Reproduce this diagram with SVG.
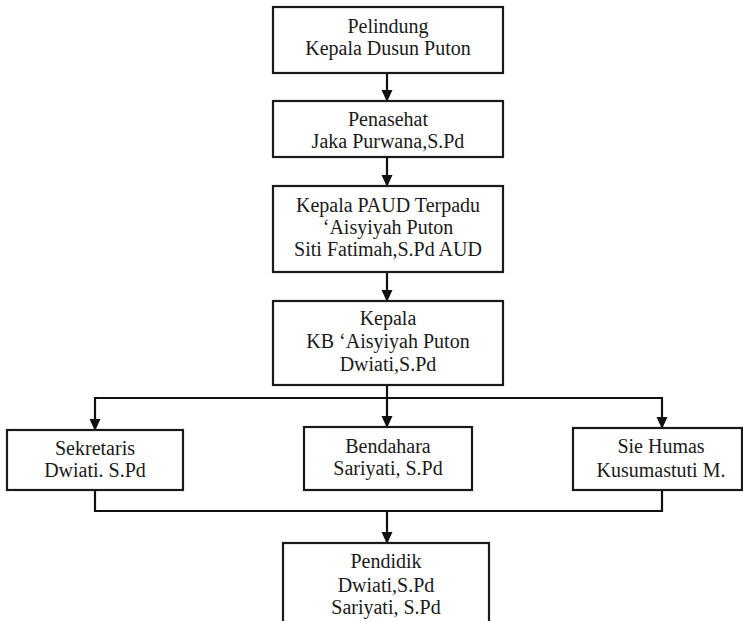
<svg xmlns="http://www.w3.org/2000/svg" width="743" height="621" viewBox="0 0 743 621">
<defs>
<marker id="ah" markerWidth="12" markerHeight="12" refX="11" refY="6" orient="auto" markerUnits="userSpaceOnUse">
<path d="M0,0.5 L12,6 L0,11.5 Z" fill="#111"/>
</marker>
<style>
.box{fill:#fff;stroke:#1a1a1a;stroke-width:2.2}
.t{font-family:"Liberation Serif","Times New Roman",serif;font-size:20px;fill:#1a1a1a;text-anchor:middle}
.c{fill:none;stroke:#111;stroke-width:2.2}
</style>
</defs>
<rect width="743" height="621" fill="#fff"/>
<g id="connectors">
<line class="c" x1="387" y1="73" x2="387" y2="101" marker-end="url(#ah)"/>
<line class="c" x1="387" y1="157" x2="387" y2="186" marker-end="url(#ah)"/>
<line class="c" x1="387" y1="272" x2="387" y2="301" marker-end="url(#ah)"/>
<line class="c" x1="387" y1="385" x2="387" y2="427" marker-end="url(#ah)"/>
<line class="c" x1="95" y1="398" x2="662" y2="398"/>
<line class="c" x1="95" y1="397" x2="95" y2="430" marker-end="url(#ah)"/>
<line class="c" x1="662" y1="397" x2="662" y2="428" marker-end="url(#ah)"/>
<polyline class="c" points="95,490 95,511 662,511 662,490"/>
<line class="c" x1="387" y1="511" x2="387" y2="543" marker-end="url(#ah)"/>
</g>
<g id="pelindung">
<rect class="box" x="273" y="7" width="230" height="66"/>
<text class="t" x="388" y="33">Pelindung</text>
<text class="t" x="388" y="55">Kepala Dusun Puton</text>
</g>
<g id="penasehat">
<rect class="box" x="273" y="101" width="230" height="56"/>
<text class="t" x="388" y="126">Penasehat</text>
<text class="t" x="388" y="148">Jaka Purwana,S.Pd</text>
</g>
<g id="kepala-paud">
<rect class="box" x="273" y="186" width="230" height="86"/>
<text class="t" x="388" y="212">Kepala PAUD Terpadu</text>
<text class="t" x="388" y="234">‘Aisyiyah Puton</text>
<text class="t" x="388" y="256">Siti Fatimah,S.Pd AUD</text>
</g>
<g id="kepala-kb">
<rect class="box" x="273" y="301" width="230" height="84"/>
<text class="t" x="388" y="325">Kepala</text>
<text class="t" x="388" y="348">KB ‘Aisyiyah Puton</text>
<text class="t" x="388" y="371">Dwiati,S.Pd</text>
</g>
<g id="sekretaris">
<rect class="box" x="7" y="430" width="176" height="60"/>
<text class="t" x="95" y="455">Sekretaris</text>
<text class="t" x="95" y="477">Dwiati. S.Pd</text>
</g>
<g id="bendahara">
<rect class="box" x="304" y="427" width="168" height="63"/>
<text class="t" x="388" y="453">Bendahara</text>
<text class="t" x="388" y="475">Sariyati, S.Pd</text>
</g>
<g id="sie-humas">
<rect class="box" x="573" y="428" width="169" height="62"/>
<text class="t" x="661" y="453">Sie Humas</text>
<text class="t" x="661" y="477">Kusumastuti M.</text>
</g>
<g id="pendidik">
<rect class="box" x="283" y="543" width="206" height="84"/>
<text class="t" x="386" y="568">Pendidik</text>
<text class="t" x="386" y="592">Dwiati,S.Pd</text>
<text class="t" x="386" y="614">Sariyati, S.Pd</text>
</g>
</svg>
